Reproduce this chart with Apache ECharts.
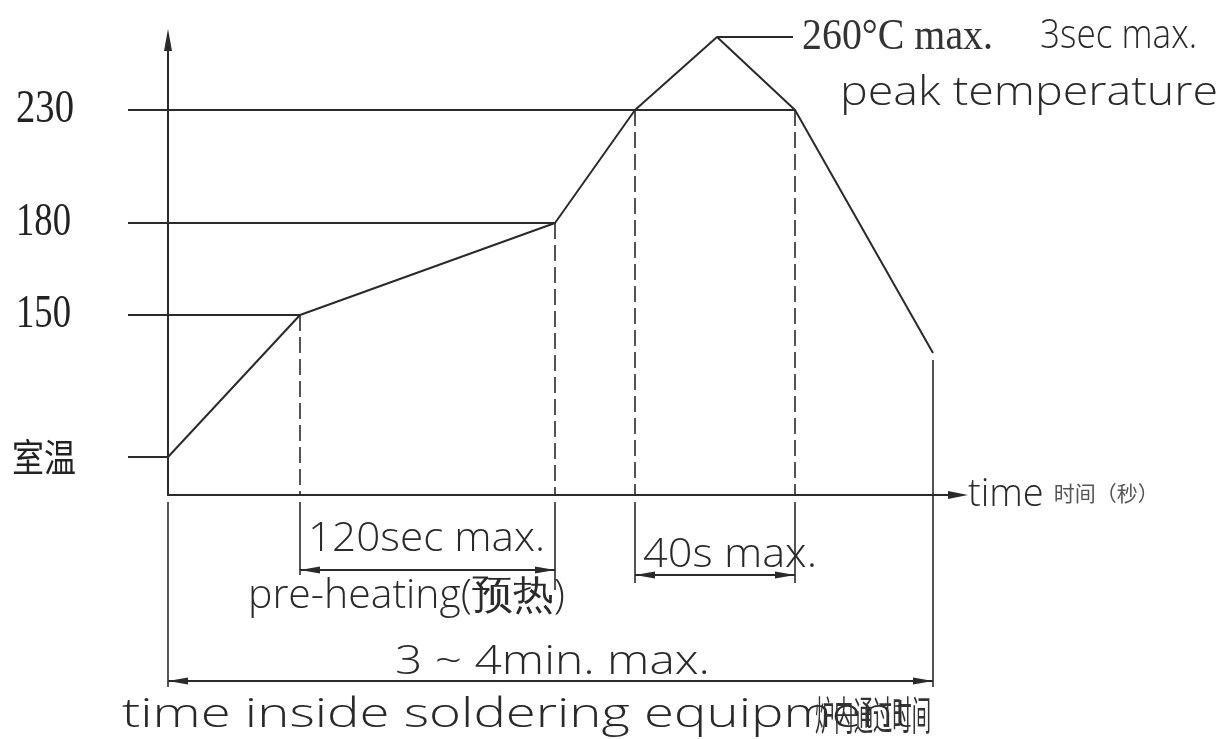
<!DOCTYPE html>
<html><head><meta charset="utf-8">
<script src="https://cdn.jsdelivr.net/npm/echarts@6/dist/echarts.min.js"></script>
<style>html,body{margin:0;background:#fff}#c{width:1222px;height:739px}</style>
</head><body><div id="c"></div>
<script>
// ---- data (diagram units: x = time position, y = temperature level position) ----
const timeKnots  = [0, 132, 387, 467, 549, 627, 765];
const tempLevels = [38, 180, 272, 385, 458, 385, 142];
const levelLabels = ['室温', '150', '180', '230'];
const levelValues = [38, 180, 272, 385];
const levelEnds   = [0, 132, 387, 627];
const dropTimes = [132, 387, 467, 627];
const dropTops  = [180, 272, 385, 385];
const spanStarts = [132, 467, 0];
const spanEnds   = [387, 627, 765];
const spanLabels = ['120sec max.', '40s max.', '3 ~ 4min. max.'];
const peakLabel1 = '260°C max.';
const peakLabel2 = '3sec max.';
const peakLabel3 = 'peak temperature';
const preheatCaption = 'pre-heating(预热)';
const totalCaptionEn = 'time inside soldering equipment';
const totalCaptionZh = '炉内通过时间';
const xName = 'time';
const xNameZh = '时间（秒）';

const C = '#2a2a2a';
const CAD = '"Open Sans", "DejaVu Sans", sans-serif';
const SERIF = '"Liberation Serif", "DejaVu Serif", serif';
const CJK = '"Noto Sans CJK SC", sans-serif';
const mctx = document.createElement('canvas').getContext('2d');
function txt(x, y, text, family, size, weight, width, align, color) {
  let sx = 1;
  if (width) { mctx.font = weight + ' ' + size + 'px ' + family; sx = width / mctx.measureText(text).width; }
  return { type: 'text', x: x, y: y, scaleX: sx, z2: 10,
    style: { text: text, fontFamily: family, fontSize: size, fontWeight: weight, fill: color || C,
      align: align || 'left', verticalAlign: 'middle' } };
}
function line(p1, p2, dash, w) {
  return { type: 'line', shape: { x1: p1[0], y1: p1[1], x2: p2[0], y2: p2[1] },
    style: { stroke: C, lineWidth: w || 2, lineDash: dash || null } };
}
function arrowHead(tip, dir) { // dir: -1 points left, +1 points right
  const L = 20, H = 3.5;
  return { type: 'polygon', shape: { points: [tip, [tip[0] - dir * L, tip[1] - H], [tip[0] - dir * L, tip[1] + H]] },
    style: { fill: C } };
}

const chart = echarts.init(document.getElementById('c'));
const dimOffsets = [75, 80, 186];     // px below x-axis for dimension lines

function renderAnno(params, api) {
  const ch = [];
  const P = (x, y) => api.coord([x, y]);
  const axisY = P(0, 0)[1];
  levelValues.forEach((v, i) => {
    const a = P(0, v), b = P(levelEnds[i], v);
    ch.push(line([a[0] - 40, a[1]], b));
    ch.push(txt(a[0] - 156 + (i === 0 ? 0 : 4), a[1], levelLabels[i], i === 0 ? CJK : SERIF,
      i === 0 ? 38 : 46, 'normal', i === 0 ? 64 : (i === 3 ? 58 : 55), 'left', '#222'));
  });
  dropTimes.forEach((t, i) => {
    ch.push(line(P(t, dropTops[i]), P(t, 0), [16, 6], 1.6));
  });
  const extX = [0, 132, 387, 467, 627, 765];
  const extD = [192, 80, 95, 88, 88, 192];
  extX.forEach((t, i) => {
    const b = P(t, 0);
    const top = t === 765 ? P(765, 142)[1] + 7 : axisY + 7;
    ch.push(line([b[0], top], [b[0], axisY + extD[i]], null, 1.6));
  });
  spanStarts.forEach((s, i) => {
    const a = P(s, 0), b = P(spanEnds[i], 0);
    const y = axisY + dimOffsets[i];
    ch.push(line([a[0], y], [b[0], y], null, 2));
    ch.push(arrowHead([a[0], y], -1));
    ch.push(arrowHead([b[0], y], 1));
  });
  const m0 = P((spanStarts[0] + spanEnds[0]) / 2, 0)[0];
  const m1 = P((spanStarts[1] + spanEnds[1]) / 2, 0)[0];
  const m2 = P((spanStarts[2] + spanEnds[2]) / 2, 0)[0];
  ch.push(txt(m0 - 1, axisY + 45, spanLabels[0], CAD, 40, 300, 237, 'center'));
  ch.push(txt(m1 + 15, axisY + 61, spanLabels[1], CAD, 40, 300, 174, 'center'));
  ch.push(txt(m2 + 2, axisY + 168, spanLabels[2], CAD, 40, 300, 315, 'center'));
  ch.push(txt(m0 - 21, axisY + 102, preheatCaption, CAD, 40, 300, 317, 'center'));
  ch.push(txt(122, axisY + 221, totalCaptionEn, CAD, 40, 300, 790, 'left'));
  ch.push(txt(P(765, 0)[0] - 2, axisY + 220, totalCaptionZh, CJK, 40, 'normal', 116, 'right', '#333'));
  const pk = P(549, 458);
  ch.push(line(pk, [pk[0] + 76, pk[1]], null, 2));
  ch.push(txt(pk[0] + 85, pk[1], peakLabel1, SERIF, 44, 'normal', 191, 'left', '#333'));
  ch.push(txt(pk[0] + 323, pk[1], peakLabel2, CAD, 40, 300, 157, 'left'));
  ch.push(txt(pk[0] + 123, pk[1] + 57, peakLabel3, CAD, 40, 300, 378, 'left'));
  return { type: 'group', children: ch };
}

chart.setOption({
  backgroundColor: '#fff',
  animation: false,
  grid: { left: 168, top: 40, right: 264, bottom: 244, containLabel: false },
  xAxis: {
    type: 'value', min: 0, max: 790,
    axisLine: { symbol: ['none', 'triangle'], symbolSize: [8, 20], lineStyle: { color: C, width: 2 } },
    axisTick: { show: false }, axisLabel: { show: false }, splitLine: { show: false },
    name: '{a|' + xName + '}{b|' + xNameZh + '}', nameLocation: 'end', nameGap: 10,
    nameTextStyle: { rich: {
      a: { fontFamily: CAD, fontWeight: 300, fontSize: 38, color: C },
      b: { fontFamily: CJK, fontSize: 21, color: '#555', padding: [0, 0, 4, 10] } } }
  },
  yAxis: {
    type: 'value', min: 0, max: 455,
    axisLine: { symbol: ['none', 'triangle'], symbolSize: [8, 22], lineStyle: { color: C, width: 2 } },
    axisTick: { show: false }, axisLabel: { show: false }, splitLine: { show: false }
  },
  series: [
    { type: 'line', data: timeKnots.map((t, i) => [t, tempLevels[i]]), showSymbol: false, clip: false,
      lineStyle: { color: C, width: 2 }, silent: true, z: 3 },
    { type: 'custom', data: [[0, 0]], renderItem: renderAnno, clip: false, silent: true, z: 4 }
  ]
});
</script></body></html>
